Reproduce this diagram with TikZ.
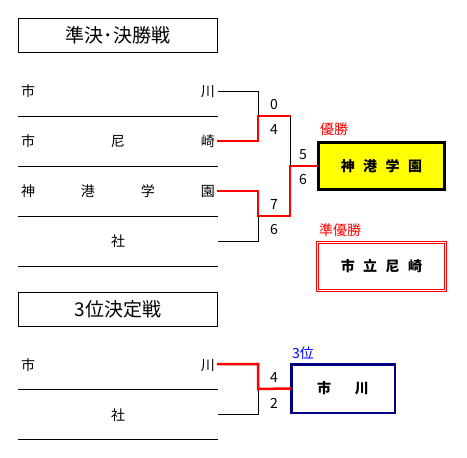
\documentclass[tikz,border=0pt]{standalone}
\usepackage{fontspec}
\setmainfont{Noto Sans CJK JP}
\definecolor{winred}{RGB}{255,0,0}
\definecolor{winyellow}{RGB}{255,255,0}
\definecolor{navyb}{RGB}{0,0,128}
\definecolor{labblue}{RGB}{0,0,255}
\begin{document}
\begin{tikzpicture}[x=1pt,y=-1pt,
  every node/.style={inner sep=0pt, font=\fontsize{14}{14}\selectfont},
  titlebox/.style={draw, line width=1pt, minimum width=199pt, minimum height=34pt, font=\fontsize{19}{19}\selectfont},
  sepline/.style={line width=1pt},
  loser/.style={line width=1pt, black},
  winner/.style={line width=2.5pt, winred, line cap=rect},
  score/.style={font=\fontsize{14}{14}\selectfont},
  redlab/.style={anchor=west, text=winred},
  champbox/.style={draw, line width=3pt, fill=winyellow, minimum width=126pt, minimum height=47pt, font=\fontsize{14}{14}\selectfont\bfseries},
  runnerbox/.style={draw=winred, double, line width=1pt, double distance=1pt, minimum width=128pt, minimum height=48pt, font=\fontsize{14}{14}\selectfont\bfseries},
  thirdbox/.style={draw=navyb, line width=2.5pt, minimum width=103.5pt, minimum height=48.5pt, font=\fontsize{14}{14}\selectfont\bfseries}
]
\useasboundingbox (0,0) rectangle (467,458);

% ---------- semifinal / final ----------
\node[titlebox] (title1) at (118,35.5) {準決･決勝戦};

\node (r1) at (118,91) {\makebox[194pt][s]{市\hfill 川}};
\node (r2) at (118,141) {\makebox[194pt][s]{市\hfill 尼\hfill 崎}};
\node (r3) at (118,191) {\makebox[194pt][s]{神\hfill 港\hfill 学\hfill 園}};
\node (r4) at (118,241) {社};

\draw[sepline] (18,116) -- (218,116);
\draw[sepline] (18,166) -- (218,166);
\draw[sepline] (18,216) -- (218,216);
\draw[sepline] (18,266) -- (218,266);

\coordinate (e1) at (218,91);
\coordinate (e2) at (218,141);
\coordinate (e3) at (218,191);
\coordinate (e4) at (218,241);
\coordinate (j1) at (258,116);
\coordinate (j2) at (258,216);
\coordinate (k1) at (290,116);
\coordinate (k2) at (290,216);
\coordinate (f) at (290,166);

\node[champbox] (champ) at (381.5,166) {神\hspace{8.5pt}港\hspace{8.5pt}学\hspace{8.5pt}園};
\node[redlab] (lab1) at (320,129) {優勝};

\node[runnerbox] (runner) at (381.5,266.5) {市\hspace{8.5pt}立\hspace{8.5pt}尼\hspace{8.5pt}崎};
\node[redlab] (lab2) at (319,230) {準優勝};

\draw[loser] (e1) -| (j1);
\draw[loser] (e4) -| (j2);
\draw[loser] (k1) -- (f);
\draw[winner] (e2) -| (j1) -- (k1);
\draw[winner] (e3) -| (j2) -- (k2) -- (f) -- (champ.west);

\node[score] (s1) at (274,105) {0};
\node[score] (s2) at (274,130) {4};
\node[score] (s3) at (303,155) {5};
\node[score] (s4) at (303,180) {6};
\node[score] (s5) at (274,205) {7};
\node[score] (s6) at (274,230) {6};

% ---------- third place ----------
\node[titlebox] (title2) at (118,309) {3位決定戦};

\node (r5) at (118,365) {\makebox[194pt][s]{市\hfill 川}};
\node (r6) at (118,415) {社};

\draw[sepline] (18,389) -- (218,389);
\draw[sepline] (18,439) -- (218,439);

\coordinate (e5) at (218,364);
\coordinate (e6) at (218,414);
\coordinate (j3) at (258,389);

\node[thirdbox] (third) at (343,388.5) {市\hspace{24pt}川};
\node[anchor=west, text=labblue] (lab3) at (292,353) {3位};

\draw[loser] (e6) -| (j3);
\draw[winner] (e5) -| (j3) -- (third.west);

\node[score] (s7) at (274,378) {4};
\node[score] (s8) at (274,403) {2};
\end{tikzpicture}
\end{document}
